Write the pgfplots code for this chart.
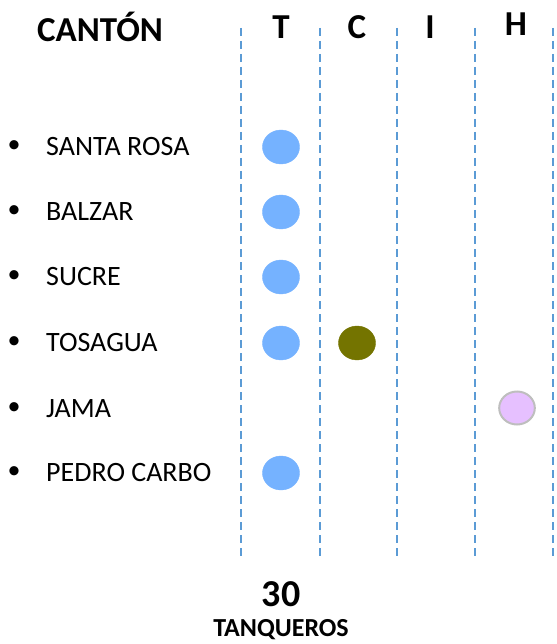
\documentclass[border=0pt]{standalone}
\usepackage{pgfplots}
\pgfplotsset{compat=1.18}
\usepackage{fontspec}
\setmainfont{Carlito}
\definecolor{dashblue}{RGB}{91,155,213}
\definecolor{dotblue}{RGB}{117,178,255}
\definecolor{dotolive}{RGB}{116,116,0}
\definecolor{dotpink}{RGB}{230,192,255}
\definecolor{dotgray}{RGB}{190,190,190}
\begin{document}
\begin{tikzpicture}
\begin{axis}[
  scale only axis, width=556pt, height=644pt,
  xmin=0, xmax=556, ymin=0, ymax=644, y dir=reverse,
  hide axis, clip=false,
]
% dashed column separators
\foreach \xx in {241,320,397,475,553} {
  \edef\temp{\noexpand\addplot[dashblue, line width=1.8pt, dash pattern=on 8pt off 5pt] coordinates {(\xx,28) (\xx,556)};}
  \temp
}
% T column
\addplot[only marks, mark=*, mark size=17pt, mark options={fill=dotblue, draw=dotblue, xscale=1.09}]
  coordinates {(281,147) (281,212) (281,277) (281,343) (281,473)};
% C column
\addplot[only marks, mark=*, mark size=17pt, mark options={fill=dotolive, draw=dotolive, xscale=1.09}]
  coordinates {(357,343)};
% H column
\addplot[only marks, mark=*, mark size=16.5pt, mark options={fill=dotpink, draw=dotgray, line width=2pt, xscale=1.08}]
  coordinates {(517,408)};
% headers
\node[font=\fontsize{35}{37}\selectfont\bfseries] at (axis cs:100,27) {CANTÓN};
\node[font=\fontsize{35}{37}\selectfont\bfseries] at (axis cs:281,27) {T};
\node[font=\fontsize{35}{37}\selectfont\bfseries] at (axis cs:357,27) {C};
\node[font=\fontsize{35}{37}\selectfont\bfseries] at (axis cs:430,27) {I};
\node[font=\fontsize{35}{37}\selectfont\bfseries] at (axis cs:516,24) {H};
% rows
\foreach \yy/\lab in {147/SANTA ROSA,212/BALZAR,277/SUCRE,343/TOSAGUA,409/JAMA,473/PEDRO CARBO} {
  \edef\temp{\noexpand\node[font=\noexpand\fontsize{26}{28}\noexpand\selectfont] at (axis cs:14,\yy) {•};
  \noexpand\node[font=\noexpand\fontsize{28}{30}\noexpand\selectfont, anchor=west, inner sep=0pt] at (axis cs:46,\yy) {\lab};}
  \temp
}
% footer
\node[font=\fontsize{38}{40}\selectfont\bfseries, anchor=base, inner sep=0pt] at (axis cs:281,606) {30};
\node[font=\fontsize{26}{28}\selectfont\bfseries, anchor=base, inner sep=0pt] at (axis cs:281,636) {TANQUEROS};
\end{axis}
\pgfresetboundingbox
\useasboundingbox (current axis.south west) rectangle (current axis.north east);
\end{tikzpicture}
\end{document}
